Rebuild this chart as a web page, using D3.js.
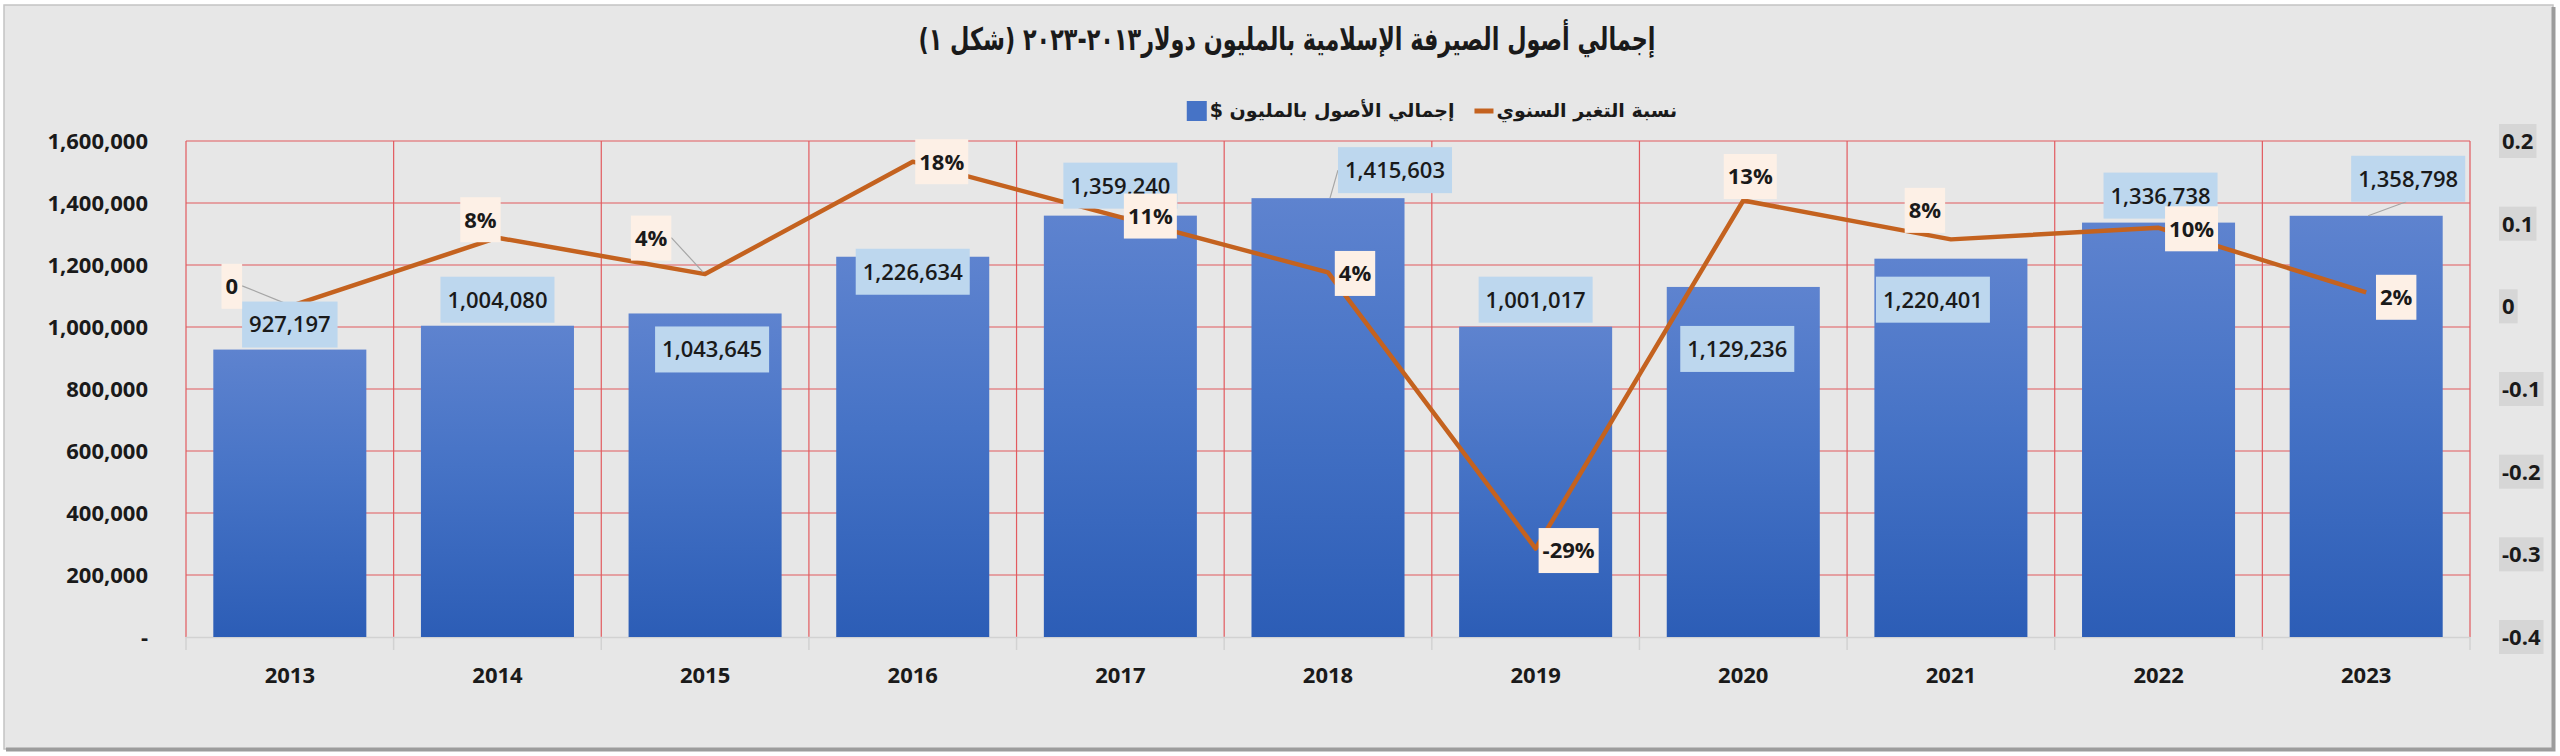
<!DOCTYPE html>
<html lang="ar">
<head>
<meta charset="utf-8">
<script src="https://cdn.jsdelivr.net/npm/d3@7"></script>
<style>
  html, body { margin: 0; padding: 0; background: #fff; }
  svg text { font-family: "Open Sans", "DejaVu Sans", sans-serif; fill: #1a1a1a; }
  .ar { font-family: "DejaVu Sans", sans-serif; direction: rtl; unicode-bidi: embed; }
</style>
</head>
<body>
<div id="chart"></div>
<script>
// chart values
const years = ["2013", "2014", "2015", "2016", "2017", "2018", "2019", "2020", "2021", "2022", "2023"];
const totalAssets = [927197, 1004080, 1043645, 1226634, 1359240, 1415603, 1001017, 1129236, 1220401, 1336738, 1358798];
const annualChange = [0, 0.083, 0.039, 0.175, 0.108, 0.041, -0.293, 0.128, 0.081, 0.095, 0.017];
const leftTicks = [0, 200000, 400000, 600000, 800000, 1000000, 1200000, 1400000, 1600000];
const rightTicks = [0.2, 0.1, 0, -0.1, -0.2, -0.3, -0.4];

const titleText = "إجمالي أصول الصيرفة الإسلامية بالمليون دولار٢٠١٣-٢٠٢٣  (شكل ١)";
const legendBarText = "إجمالي الأصول بالمليون $";
const legendLineText = "نسبة التغير السنوي";

// label nudges (dx, dy) the way they were dragged in the original chart
const barLabelShift = [[0, -25], [0, -26], [7, 36], [0, 15], [0, -30], [67, -28], [0, -27], [-6, 62], [-18, 41], [2, -27], [42, -37]];
const pctLabelShift = [[-58, -20], [-17, -18], [-54, -36], [29, 0], [30, -1], [27, 1], [33, 2], [7, -24], [-26, -29], [33, 1], [30, 5]];

const W = 2560, H = 756;
const plot = { left: 186, right: 2470, top: 141, bottom: 637 };

const loc = d3.formatLocale({ decimal: ".", thousands: ",", grouping: [3], currency: ["$", ""], minus: "-" });
const fmtThousands = loc.format(",");
const fmtPct = v => v === 0 ? "0" : loc.format(".0%")(v);
const fmtRight = loc.format(".1~f");

const svg = d3.select("#chart").append("svg")
    .attr("width", W)
    .attr("height", H);

// frame
svg.append("rect").attr("width", W).attr("height", H).attr("fill", "#fff");
svg.append("rect")
    .attr("x", 4).attr("y", 5)
    .attr("width", 2549).attr("height", 744)
    .attr("fill", "#e7e7e7")
    .attr("stroke", "#c4c4c4")
    .attr("stroke-width", 1.5);
svg.append("path")
    .attr("d", "M2553.5,7V749.5H6")
    .attr("fill", "none")
    .attr("stroke", "#9c9c9c")
    .attr("stroke-width", 4);

// bar gradient
const grad = svg.append("defs").append("linearGradient")
    .attr("id", "barFill")
    .attr("x1", 0).attr("y1", 0).attr("x2", 0).attr("y2", 1);
grad.append("stop").attr("offset", "0%").attr("stop-color", "#5e83cf");
grad.append("stop").attr("offset", "45%").attr("stop-color", "#4673c6");
grad.append("stop").attr("offset", "100%").attr("stop-color", "#2c5db6");

// scales
const x = d3.scaleBand()
    .domain(years)
    .range([plot.left, plot.right])
    .paddingInner(0.263)
    .paddingOuter(0.1315);
const yLeft = d3.scaleLinear().domain([0, 1600000]).range([plot.bottom, plot.top]);
const yRight = d3.scaleLinear().domain([-0.4, 0.2]).range([plot.bottom, plot.top]);
const cx = d => x(d) + x.bandwidth() / 2;

// gridlines
const gridColor = "#e25a5f";
const grid = svg.append("g");
grid.selectAll(".hgrid")
    .data(leftTicks.filter(t => t > 0))
    .enter()
    .append("line")
    .attr("x1", plot.left).attr("x2", plot.right)
    .attr("y1", d => yLeft(d)).attr("y2", d => yLeft(d))
    .attr("stroke", gridColor)
    .attr("stroke-width", 1.2);

const bounds = years.map(d => x(d) - x.step() * x.paddingInner() / 2).concat([plot.right]);
grid.selectAll(".vgrid")
    .data(bounds)
    .enter()
    .append("line")
    .attr("x1", d => d).attr("x2", d => d)
    .attr("y1", plot.top).attr("y2", plot.bottom)
    .attr("stroke", gridColor)
    .attr("stroke-width", 1.2);

// category axis line and ticks
svg.append("line")
    .attr("x1", plot.left).attr("x2", plot.right)
    .attr("y1", plot.bottom + 0.5).attr("y2", plot.bottom + 0.5)
    .attr("stroke", "#d2d2d2").attr("stroke-width", 1.5);
svg.selectAll(".xtick")
    .data(bounds)
    .enter()
    .append("line")
    .attr("x1", d => d).attr("x2", d => d)
    .attr("y1", plot.bottom).attr("y2", plot.bottom + 13)
    .attr("stroke", "#d2d2d2").attr("stroke-width", 1.5);

// bars
svg.selectAll(".bar")
    .data(years)
    .enter()
    .append("rect")
    .attr("x", d => x(d))
    .attr("y", (d, i) => yLeft(totalAssets[i]))
    .attr("width", x.bandwidth())
    .attr("height", (d, i) => plot.bottom - yLeft(totalAssets[i]))
    .attr("fill", "url(#barFill)");

// line
const line = d3.line()
    .x((d, i) => cx(years[i]))
    .y(d => yRight(d));
svg.append("path")
    .datum(annualChange)
    .attr("d", line)
    .attr("fill", "none")
    .attr("stroke", "#c4621f")
    .attr("stroke-width", 4.5)
    .attr("stroke-linejoin", "round");

// labelled box helper
function boxLabel(parent, px, py, text, fill, padX, h, weight) {
    const g = parent.append("g").attr("transform", `translate(${px},${py})`);
    const t = g.append("text")
        .attr("text-anchor", "middle")
        .attr("dy", "0.36em")
        .style("font-size", "22px")
        .style("font-weight", weight)
        .text(text);
    const w = t.node().getComputedTextLength();
    g.insert("rect", "text")
        .attr("x", -w / 2 - padX).attr("y", -h / 2)
        .attr("width", w + 2 * padX).attr("height", h)
        .attr("fill", fill);
    return { left: px - w / 2 - padX, right: px + w / 2 + padX, top: py - h / 2, bottom: py + h / 2 };
}

// bar labels
const leaders = svg.append("g");
const barLabels = svg.append("g");
years.forEach((d, i) => {
    const top = yLeft(totalAssets[i]);
    const [dx, dy] = barLabelShift[i];
    const b = boxLabel(barLabels, cx(d) + dx, top + dy, fmtThousands(totalAssets[i]), "#bdd7ee", 7, 46, 600);
    if (Math.abs(dx) > 30 && dy < 0) {
        const tx = cx(d), ty = top;
        let ax, ay;
        if (tx < b.left) { ax = b.left; ay = (b.top + b.bottom) / 2; }
        else { ax = Math.min(Math.max(tx + 40, b.left), b.right); ay = b.bottom; }
        leaders.append("path")
            .attr("d", `M${ax},${ay}L${tx + 2},${ty}`)
            .attr("fill", "none").attr("stroke", "#a6a6a6").attr("stroke-width", 1.2);
    }
});

// percent labels
const pctLabels = svg.append("g");
annualChange.forEach((v, i) => {
    const px = cx(years[i]), py = yRight(v);
    const [dx, dy] = pctLabelShift[i];
    const b = boxLabel(pctLabels, px + dx, py + dy, fmtPct(v), "#fdf0e6", 4, 45, 700);
    const gapX = Math.max(b.left - px, px - b.right, 0);
    const gapY = Math.max(b.top - py, py - b.bottom, 0);
    if (Math.hypot(gapX, gapY) > 15) {
        const ay = Math.min(Math.max(py, b.top), b.bottom);
        const ax = px > b.right ? b.right : b.left;
        leaders.append("path")
            .attr("d", `M${ax},${(b.top + b.bottom) / 2 < py ? Math.min(ay, b.top + 22) : ay}L${px - 2},${py - 2}`)
            .attr("fill", "none").attr("stroke", "#a6a6a6").attr("stroke-width", 1.2);
    }
});

// left axis
const leftAxis = d3.axisLeft(yLeft)
    .tickValues(leftTicks)
    .tickFormat(d => d === 0 ? "-" : fmtThousands(d))
    .tickSize(0)
    .tickPadding(0);
const gl = svg.append("g")
    .attr("transform", "translate(148,0)")
    .call(leftAxis);
gl.select(".domain").remove();
gl.selectAll("text")
    .style("font-size", "22px")
    .style("font-weight", 700)
    .attr("fill", "#1a1a1a");

// right axis with grey boxes
const gr = svg.append("g");
rightTicks.forEach(t => {
    const g = gr.append("g").attr("transform", `translate(2499,${yRight(t)})`);
    const txt = g.append("text")
        .attr("x", 3).attr("dy", "0.36em")
        .style("font-size", "22px")
        .style("font-weight", 700)
        .text(fmtRight(t));
    const w = txt.node().getComputedTextLength();
    g.insert("rect", "text")
        .attr("x", 0).attr("y", -17)
        .attr("width", w + 6).attr("height", 34)
        .attr("fill", "#d6d6d6");
});

// category labels
const bottomAxis = d3.axisBottom(x).tickSize(0).tickPadding(0);
const gb = svg.append("g")
    .attr("transform", `translate(0,${plot.bottom + 30})`)
    .call(bottomAxis);
gb.select(".domain").remove();
gb.selectAll("text")
    .style("font-size", "22px")
    .style("font-weight", 700)
    .attr("fill", "#1a1a1a");

// title
svg.append("text")
    .attr("class", "ar")
    .attr("x", 1287).attr("y", 50)
    .attr("text-anchor", "middle")
    .attr("textLength", 737)
    .attr("lengthAdjust", "spacingAndGlyphs")
    .style("font-size", "31px")
    .style("font-weight", 700)
    .style("font-family", "'DejaVu Sans', sans-serif")
    .text(titleText);

// legend, laid out right to left, then centred
const legend = svg.append("g");
const legendY = 111;
function legendText(str, right) {
    const t = legend.append("text")
        .attr("class", "ar")
        .attr("y", legendY)
        .attr("dy", "0.32em")
        .attr("text-anchor", "middle")
        .style("font-size", "19px")
        .style("font-weight", 700)
        .style("font-family", "'DejaVu Sans', sans-serif")
        .text(str);
    const w = t.node().getComputedTextLength();
    t.attr("x", right - w / 2);
    return right - w;
}
let edge = legendText(legendLineText, 0);
legend.append("line")
    .attr("x1", edge - 22).attr("x2", edge - 3)
    .attr("y1", legendY).attr("y2", legendY)
    .attr("stroke", "#c4621f").attr("stroke-width", 5);
edge = legendText(legendBarText, edge - 42);
legend.append("rect")
    .attr("x", edge - 23).attr("y", legendY - 10)
    .attr("width", 20).attr("height", 20)
    .attr("fill", "#4673c6");
const legendWidth = -(edge - 23);
legend.attr("transform", `translate(${1432 + legendWidth / 2},0)`);
</script>
</body>
</html>
